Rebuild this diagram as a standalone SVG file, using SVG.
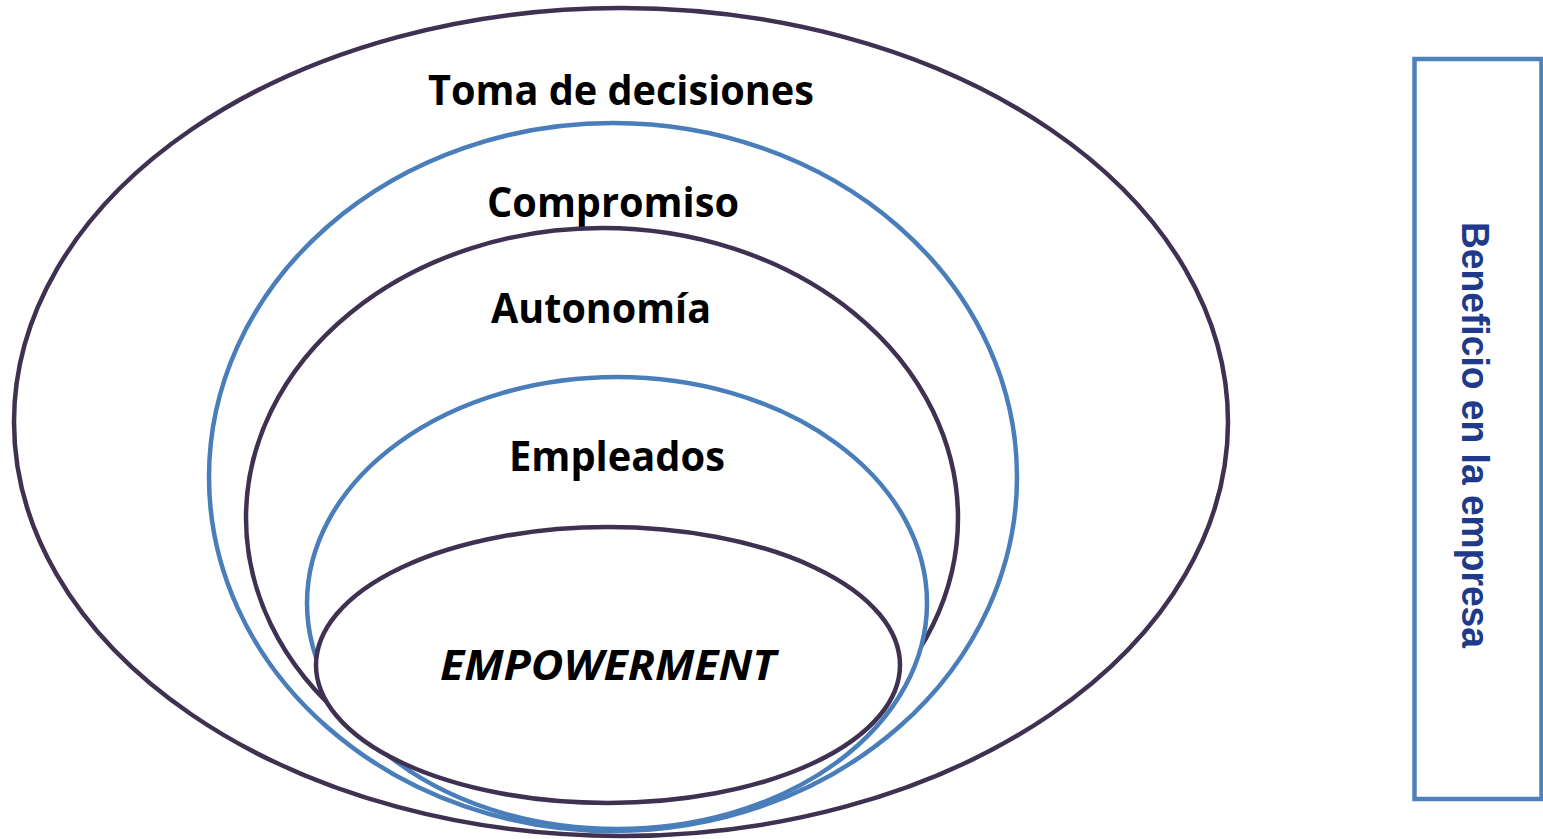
<svg xmlns="http://www.w3.org/2000/svg" width="1543" height="839" viewBox="0 0 1543 839">
<style>
.dk{fill:#fff;stroke:#3F3151;stroke-width:4.5}
.bl{fill:#fff;stroke:#4A7EBB;stroke-width:4.5}
.lbl{font-family:"Open Sans","Liberation Sans",sans-serif;font-weight:bold;font-size:42px;fill:#000}
.side{font-family:"Liberation Sans",Arial,sans-serif;font-weight:bold;font-size:39px;fill:#1F3A8A}
</style>
<rect width="1543" height="839" fill="#fff"/>
<g id="n-toma"><ellipse class="dk" cx="621" cy="422" rx="607" ry="414"/><text class="lbl" x="428" y="105" textLength="386" lengthAdjust="spacingAndGlyphs">Toma de decisiones</text></g>
<g id="n-compromiso"><ellipse class="bl" cx="613" cy="477" rx="404" ry="354"/><text class="lbl" x="487" y="217" textLength="252" lengthAdjust="spacingAndGlyphs">Compromiso</text></g>
<g id="n-autonomia"><ellipse class="dk" cx="602" cy="518" rx="356" ry="290"/><text class="lbl" x="491" y="323" textLength="220" lengthAdjust="spacingAndGlyphs">Autonomía</text></g>
<g id="n-empleados"><ellipse class="bl" cx="617" cy="603" rx="310" ry="226"/><text class="lbl" x="509" y="471" textLength="216" lengthAdjust="spacingAndGlyphs">Empleados</text></g>
<g id="n-empowerment"><ellipse class="dk" cx="608" cy="665" rx="292" ry="138"/><text class="lbl" x="440" y="680" font-style="italic" textLength="336" lengthAdjust="spacingAndGlyphs">EMPOWERMENT</text></g>
<g id="n-beneficio"><rect x="1414.5" y="59" width="127" height="740" fill="none" stroke="#4F81BD" stroke-width="4.5"/><text class="side" transform="translate(1462,222) rotate(90)" textLength="426" lengthAdjust="spacingAndGlyphs">Beneficio en la empresa</text></g>
<g id="connectors"></g>
</svg>
